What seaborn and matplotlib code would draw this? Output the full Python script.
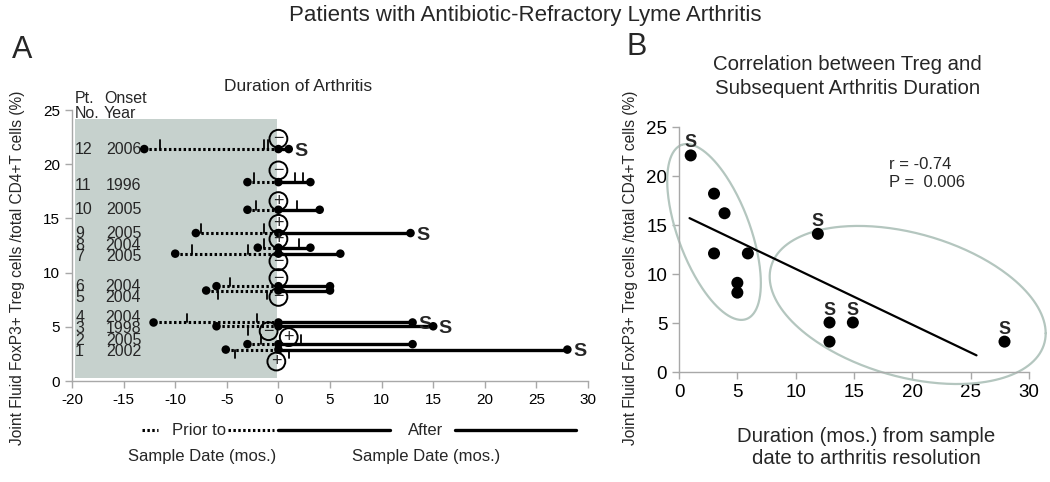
import numpy as np
import pandas as pd
import matplotlib
matplotlib.use('Agg')
import matplotlib.pyplot as plt
import seaborn as sns

# ---- Panel A: one row per patient (bottom to top) ----
pt_no = ['1', '2', '3', '4', '5', '6', '7', '8', '9', '10', '11', '12']
onset_year = ['2002', '2005', '1998', '2004', '2004', '2004',
              '2005', '2004', '2005', '2005', '1996', '2006']
row_treg = [2.9, 3.4, 5.05, 5.4, 8.35, 8.75, 11.75, 12.3, 13.65, 15.8, 18.35, 21.4]
label_y = [2.7, 3.77, 4.84, 5.85, 7.7, 8.75, 11.45, 12.46, 13.65, 15.8, 18.0, 21.4]
months_before = [-5.1, -3.0, -6.0, -12.1, -7.0, -6.0, -10.0, -2.0, -8.0, -3.0, -3.0, -13.0]
months_after = [28, 13, 15, 13, 5, 5, 6, 3.1, 12.8, 4, 3.1, 1]
synovectomy = [True, False, True, True, False, False, False, False, True, False, False, True]

# small treatment ticks on the lines: row index, month, direction (+1 up / -1 down)
tick_row = [11, 11, 11, 10, 10, 10, 9, 9, 8, 8, 7, 7, 6, 6, 5, 4, 4, 3, 3, 2, 1, 1, 0, 0]
tick_x = [-11.5, -1.4, -1.0, -2.4, 1.6, 2.4, -2.2, 1.8, -7.5, -1.4, -1.4, 2.0,
          -8.4, -2.9, -4.7, -5.9, -1.1, -8.9, -2.1, -2.9, -1.7, 2.2, -4.2, 1.0]
tick_dir = [1, 1, 1, 1, 1, 1, 1, 1, 1, 1, 1, 1, 1, 1, 1, -1, -1, 1, 1, -1, 1, 1, -1, -1]

# circled +/- results near the sample date
circle_x = [0, 0, 0, 0, 0, 0, 0, 0, -0.95, 1.0, -0.2]
circle_y = [22.35, 19.43, 16.6, 14.5, 13.1, 11.05, 9.5, 7.76, 4.6, 4.05, 1.8]
circle_sign = ['\u2212', '\u2212', '+', '+', '+', '\u2212', '\u2212', '\u2212', '\u2212', '+', '+']

# ---- Panel B ----
b_duration = [1, 3, 3.9, 3, 5.9, 5, 5, 11.9, 12.9, 14.9, 12.9, 27.9]
b_treg = [22.1, 18.2, 16.2, 12.1, 12.1, 9.1, 8.1, 14.1, 5.05, 5.05, 3.1, 3.1]
b_synovectomy = [True, False, False, False, False, False, False, True, True, True, False, True]
fit_x = [0.9, 25.5]
fit_y = [15.7, 1.7]
# ellipses: centre, first and second half-axis vectors (data units)
ell_centre = [(3.0, 14.29), (19.6, 6.84)]
ell_u = [(-2.785, 8.88), (11.83, -2.89)]
ell_v = [(2.89, 1.29), (0.0, -7.53)]

sns.set_style('ticks')
plt.rcParams['font.family'] = ['Liberation Sans', 'DejaVu Sans']
plt.rcParams['axes.unicode_minus'] = False

fig = plt.figure(figsize=(10.5, 4.82), dpi=100)
ax_a = fig.add_axes([0.0686, 0.2095, 0.4914, 0.5622])
ax_b = fig.add_axes([0.6467, 0.2282, 0.3333, 0.5083])

grey = '#a8a8a8'
for ax in (ax_a, ax_b):
    sns.despine(ax=ax)
    for s in ('left', 'bottom'):
        ax.spines[s].set_color(grey)
        ax.spines[s].set_linewidth(1.0)
    ax.tick_params(color=grey, length=5, width=1, labelcolor='black')

# ---------- Panel A ----------
ax_a.set_xlim(-20, 30)
ax_a.set_ylim(0, 25)
ax_a.set_xticks(range(-20, 31, 5))
ax_a.set_yticks(range(0, 26, 5))
ax_a.tick_params(labelsize=11)

ax_a.fill_between([-19.7, -0.1], 0.3, 24.2, color='#c6d1cd', lw=0, zorder=0)

for i in range(len(pt_no)):
    y = row_treg[i]
    ax_a.plot([months_before[i], 0], [y, y], color='black', lw=2.2,
              ls=(0, (0.8, 0.8)), dash_capstyle='butt', zorder=2)
    ax_a.plot([0, months_after[i]], [y, y], color='black', lw=2.4,
              solid_capstyle='butt', zorder=2)
    ax_a.text(-19.7, label_y[i], pt_no[i], fontsize=11.5, ha='left', va='center')
    ax_a.text(-13.3, label_y[i], onset_year[i], fontsize=11.5, ha='right', va='center')
    if synovectomy[i]:
        ax_a.annotate('S', (months_after[i], y), xytext=(4, -1.5),
                      textcoords='offset points', fontsize=14, fontweight='bold',
                      ha='left', va='center')

for r, x, d in zip(tick_row, tick_x, tick_dir):
    y = row_treg[r]
    ax_a.plot([x, x], [y, y + d * 0.8], color='black', lw=1.3, zorder=2)

ends = pd.DataFrame({
    'x': months_before + [0] * len(pt_no) + months_after,
    'y': row_treg * 3,
})
sns.scatterplot(data=ends, x='x', y='y', color='black', s=38, edgecolor='none',
                ax=ax_a, zorder=3)

sns.scatterplot(x=circle_x, y=circle_y, marker='o', s=165, facecolor='none',
                edgecolor='black', linewidth=1.4, ax=ax_a, zorder=4)
for x, y, sg in zip(circle_x, circle_y, circle_sign):
    ax_a.text(x, y, sg, fontsize=13, ha='center', va='center', zorder=5)

ax_a.text(-19.7, 26.1, 'Pt.', fontsize=11.5, ha='left', va='center')
ax_a.text(-16.9, 26.1, 'Onset', fontsize=11.5, ha='left', va='center')
ax_a.text(-19.7, 24.65, 'No.', fontsize=11.5, ha='left', va='center')
ax_a.text(-16.9, 24.65, 'Year', fontsize=11.5, ha='left', va='center')
ax_a.set_xlabel('')
ax_a.set_ylabel('')

# legend-like x label under panel A
trans = ax_a.get_xaxis_transform()
ly = -0.181
ax_a.plot([-13.2, -11.7], [ly, ly], transform=trans, clip_on=False, color='black',
          lw=2.2, ls=(0, (0.8, 0.8)))
ax_a.plot([-4.85, -0.4], [ly, ly], transform=trans, clip_on=False, color='black',
          lw=2.2, ls=(0, (0.8, 0.8)))
ax_a.plot([0, 10.8], [ly, ly], transform=trans, clip_on=False, color='black', lw=2.4)
ax_a.plot([17.1, 28.8], [ly, ly], transform=trans, clip_on=False, color='black', lw=2.4)
ax_a.text(-7.7, ly, 'Prior to', transform=trans, fontsize=12, ha='center', va='center')
ax_a.text(14.3, ly, 'After', transform=trans, fontsize=12, ha='center', va='center')
ax_a.text(-7.4, -0.28, 'Sample Date (mos.)', transform=trans, fontsize=12,
          ha='center', va='center')
ax_a.text(14.3, -0.28, 'Sample Date (mos.)', transform=trans, fontsize=12,
          ha='center', va='center')

# ---------- Panel B ----------
ax_b.set_xlim(0, 30)
ax_b.set_ylim(0, 25)
ax_b.set_xticks(range(0, 31, 5))
ax_b.set_yticks(range(0, 26, 5))
ax_b.tick_params(labelsize=13.5)

t = np.linspace(0, 2 * np.pi, 300)
for c, u, v in zip(ell_centre, ell_u, ell_v):
    ex = c[0] + u[0] * np.cos(t) + v[0] * np.sin(t)
    ey = c[1] + u[1] * np.cos(t) + v[1] * np.sin(t)
    ax_b.plot(ex, ey, color='#b4c6bf', lw=1.6, clip_on=False, zorder=1)

sns.lineplot(x=fit_x, y=fit_y, color='black', lw=1.6, ax=ax_b, zorder=2)
sns.scatterplot(x=b_duration, y=b_treg, color='black', s=75, edgecolor='none',
                ax=ax_b, zorder=3)
for x, y, s in zip(b_duration, b_treg, b_synovectomy):
    if s:
        ax_b.annotate('S', (x, y), xytext=(0, 9), textcoords='offset points',
                      fontsize=13, fontweight='bold', ha='center', va='center')

ax_b.text(18.0, 20.3, 'r = -0.74\nP =  0.006', fontsize=12, ha='left', va='center',
          linespacing=1.25)
ax_b.set_xlabel('')
ax_b.set_ylabel('')

# ---------- figure texts ----------
ylab = 'Joint Fluid FoxP3+ Treg cells /total CD4+T cells (%)'
fig.text(0.017, 0.444, ylab, rotation=90, fontsize=11.2, ha='center', va='center')
fig.text(0.600, 0.444, ylab, rotation=90, fontsize=11.2, ha='center', va='center')
fig.text(0.5, 0.967, 'Patients with Antibiotic-Refractory Lyme Arthritis',
         fontsize=16, ha='center', va='center')
fig.text(0.021, 0.896, 'A', fontsize=22, ha='center', va='center')
fig.text(0.606, 0.902, 'B', fontsize=22, ha='center', va='center')
fig.text(0.284, 0.82, 'Duration of Arthritis', fontsize=12.5, ha='center', va='center')
fig.text(0.807, 0.842, 'Correlation between Treg and\nSubsequent Arthritis Duration',
         fontsize=14.7, ha='center', va='center', linespacing=1.32)
fig.text(0.825, 0.0716, 'Duration (mos.) from sample\ndate to arthritis resolution',
         fontsize=14.7, ha='center', va='center', linespacing=1.2)

fig.savefig('out.png', dpi=100)
